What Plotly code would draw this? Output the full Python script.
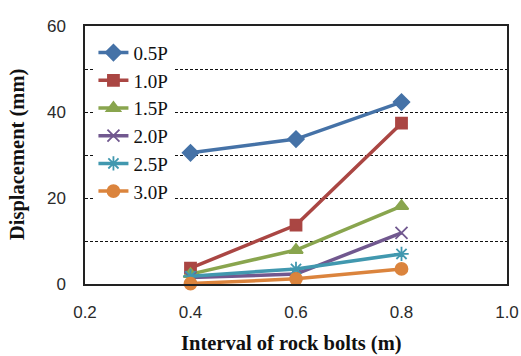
import plotly.graph_objects as go

# Rock bolt spacing (m)
intervals = [0.4, 0.6, 0.8]

# Displacement (mm) for each load level
disp_05p = [30.5, 33.7, 42.3]
disp_10p = [3.7, 13.7, 37.4]
disp_15p = [2.3, 7.9, 18.1]
disp_20p = [1.5, 2.3, 11.9]
disp_25p = [1.8, 3.5, 7.0]
disp_30p = [0.1, 1.2, 3.5]

series_names = ["0.5P", "1.0P", "1.5P", "2.0P", "2.5P", "3.0P"]
series_values = [disp_05p, disp_10p, disp_15p, disp_20p, disp_25p, disp_30p]
colors = ["#4572A7", "#AA4643", "#89A54E", "#71588F", "#4198AF", "#DB843D"]
symbols = ["diamond", "square", "triangle-up", "x-thin-open", "asterisk-open", "circle"]
sizes = [12, 11, 12, 12, 12, 12]

x_ticks = [0.2, 0.4, 0.6, 0.8, 1.0]
y_ticks = [0, 20, 40, 60]

x_title = "Interval of rock bolts (m)"
y_title = "Displacement (mm)"

fig = go.Figure()
for name, vals, col, sym, sz in zip(series_names, series_values, colors, symbols, sizes):
    fig.add_trace(go.Scatter(
        x=intervals, y=vals, name=name, mode="lines+markers",
        line=dict(color=col, width=3.5),
        marker=dict(symbol=sym, size=sz, color=col,
                    line=dict(color=col, width=1.8)),
        cliponaxis=False,
    ))

tick_font = dict(family="Liberation Sans", size=17, color="#2a2a2a")
title_font = dict(family="Liberation Serif", size=20.5, color="#111")

# Axis titles placed as annotations so the plot frame keeps a fixed size
fig.add_annotation(text=f"<b>{x_title}</b>", xref="paper", yref="paper",
                   x=0.49, y=-0.229, xanchor="center", yanchor="middle",
                   showarrow=False, font=title_font)
fig.add_annotation(text=f"<b>{y_title}</b>", xref="paper", yref="paper",
                   x=-0.161, y=0.5, xanchor="center", yanchor="middle",
                   textangle=-90, showarrow=False, font=title_font)

fig.update_layout(
    width=521, height=356,
    margin=dict(l=85, r=14, t=26, b=72),
    paper_bgcolor="white", plot_bgcolor="white",
    showlegend=True,
    legend=dict(
        x=0.02, y=0.97, xanchor="left", yanchor="top",
        bgcolor="white", borderwidth=0,
        font=dict(family="Liberation Serif", size=19, color="#111"),
        tracegroupgap=0, itemwidth=30,
    ),
    xaxis=dict(
        range=[0.2, 1.0], tickvals=x_ticks,
        ticktext=[f"{v:.1f}" for v in x_ticks],
        showgrid=False, zeroline=False, automargin=False,
        ticklabeloverflow="allow",
        showline=True, linecolor="#222", linewidth=1.5, mirror=True,
        ticks="", ticklabelstandoff=12,
        tickfont=tick_font,
    ),
    yaxis=dict(
        range=[0, 60], tickvals=y_ticks,
        showgrid=True, gridcolor="#111", gridwidth=1, griddash="3px,2px",
        minor=dict(dtick=10, showgrid=True, gridcolor="#111",
                   gridwidth=1, griddash="3px,2px"),
        zeroline=False, automargin=False,
        ticklabeloverflow="allow",
        showline=True, linecolor="#222", linewidth=1.5, mirror=True,
        ticks="", ticklabelstandoff=14,
        tickfont=tick_font,
    ),
)

fig.write_html("out.html")
